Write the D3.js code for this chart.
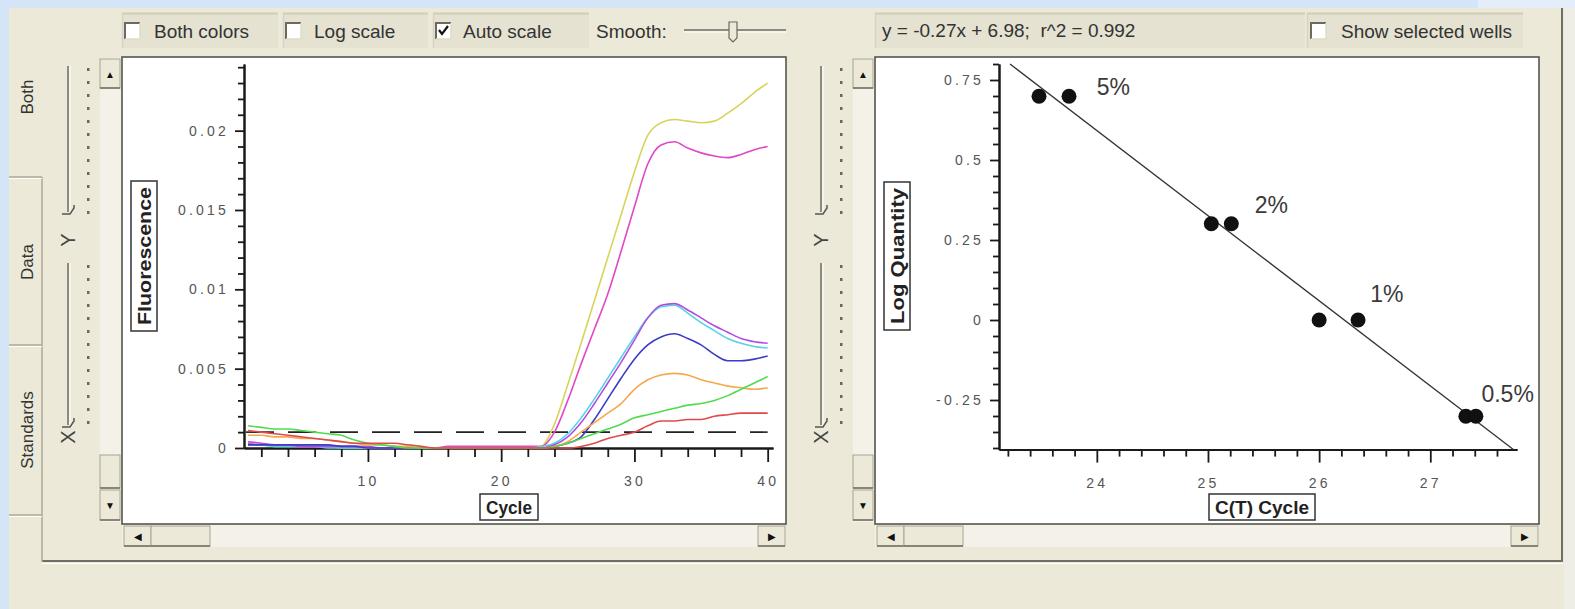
<!DOCTYPE html>
<html>
<head>
<meta charset="utf-8">
<script src="https://cdn.jsdelivr.net/npm/d3@7"></script>
<style>
  html, body { margin: 0; padding: 0; background: #ece9d8; overflow: hidden; }
  svg { display: block; }
  text { font-family: "Liberation Sans", Arial, sans-serif; }
  .pre { white-space: pre; }
</style>
</head>
<body>
<svg id="app" width="1575" height="609"></svg>
<script>
// ---------- amplification data (fluorescence per cycle) ----------
const cycles = d3.range(1, 41);

const wellYellow = [0.0002,0.0002,0.0001,0.0001,0.0001,0.0001,0.0001,0,0,0,0,0,0,0,0,0,0,0,0,0,0,0,
  0.0001,0.0015,0.0040,0.0066,0.0093,0.0120,0.0147,0.0174,0.0197,0.0205,0.0207,0.0206,0.0205,0.0206,0.0211,0.0217,0.0224,0.0230];
const wellMagenta = [0.0003,0.0002,0.0002,0.0001,0.0001,0.0001,0.0001,0.0001,0.0001,0,0,0,0,0,0,0.0001,0.0001,0.0001,0.0001,0.0001,0.0001,0.0001,
  0.0001,0.0010,0.0030,0.0053,0.0075,0.0097,0.0124,0.0152,0.0179,0.0191,0.0193,0.0189,0.0186,0.0184,0.0183,0.0185,0.0188,0.0190];
const wellCyan = [0.0002,0.0002,0.0001,0.0001,0.0001,0.0001,0,0,0,0,0,0,0,0,0,0,0,0,0,0,0,0,0.0001,
  0.0003,0.0009,0.0019,0.0031,0.0044,0.0057,0.0070,0.0082,0.0089,0.0090,0.0085,0.0079,0.0074,0.0069,0.0066,0.0064,0.0063];
const wellViolet = [0.0004,0.0003,0.0002,0.0002,0.0001,0.0001,0.0001,0.0001,0.0001,0.0001,0,0,0,0,0,0,0,0,0,0,0,0,0,
  0.0002,0.0007,0.0016,0.0028,0.0041,0.0054,0.0068,0.0082,0.0090,0.0091,0.0087,0.0082,0.0077,0.0073,0.0069,0.0067,0.0066];
const wellBlue = [0.0002,0.0002,0.0002,0.0002,0.0002,0.0002,0.0002,0.0001,0.0001,0,0,0,0,0,0,0,0,0,0,0,0,0,0,
  0.0001,0.0003,0.0007,0.0018,0.0031,0.0044,0.0056,0.0065,0.0070,0.0072,0.0069,0.0065,0.0059,0.0055,0.0055,0.0056,0.0058];
const wellOrange = [0.0008,0.0008,0.0007,0.0007,0.0006,0.0006,0.0005,0.0004,0.0003,0.0002,0.0002,0.0001,0.0001,0,0,0,0,0,0,0,0,0,0,
  0.0001,0.0004,0.0010,0.0016,0.0022,0.0028,0.0037,0.0043,0.0046,0.0047,0.0046,0.0043,0.0041,0.0039,0.0038,0.0037,0.0038];
const wellGreen = [0.0014,0.0013,0.0012,0.0012,0.0011,0.0010,0.0009,0.0008,0.0005,0.0003,0.0002,0.0001,0,0,0,0,0,0,0,0,0,0,0,
  0.0001,0.0003,0.0006,0.0009,0.0012,0.0015,0.0019,0.0021,0.0023,0.0025,0.0027,0.0028,0.0030,0.0033,0.0037,0.0041,0.0045];
const wellRed = [0.0011,0.0010,0.0009,0.0008,0.0007,0.0006,0.0005,0.0004,0.0003,0.0003,0.0003,0.0003,0.0002,0.0001,0,0,0,0,0,0,0,0,0,0,0,
  0.0001,0.0003,0.0006,0.0008,0.0010,0.0014,0.0017,0.0017,0.0018,0.0018,0.0020,0.0021,0.0022,0.0022,0.0022];

const wells = [wellYellow, wellMagenta, wellCyan, wellViolet, wellBlue, wellOrange, wellGreen, wellRed];
const wellColors = ["#d8d45a", "#e048c8", "#52d4e6", "#b24ce0", "#3c3cc8", "#f5a84c", "#50dc50", "#e04a4a"];

const threshold = 0.001;

const ampYMajor = [0, 0.005, 0.01, 0.015, 0.02];
const ampYLabels = ["0", "0.005", "0.01", "0.015", "0.02"];
const ampXMajor = [10, 20, 30, 40];
const ampXLabels = ["10", "20", "30", "40"];

// ---------- standard curve data ----------
const stdCt = [23.48, 23.75, 25.03, 25.21, 26.00, 26.35, 27.32, 27.41];
const stdLogQty = [0.699, 0.699, 0.301, 0.301, 0, 0, -0.301, -0.301];
const stdNames = ["5%", "2%", "1%", "0.5%"];
const stdNameCt = [24.0, 25.42, 26.46, 27.46];
const stdNameLogQty = [0.703, 0.334, 0.056, -0.256];

const stdYMajor = [-0.25, 0, 0.25, 0.5, 0.75];
const stdYLabels = ["-0.25", "0", "0.25", "0.5", "0.75"];
const stdXMajor = [24, 25, 26, 27];
const stdXLabels = ["24", "25", "26", "27"];

// ---------- window chrome ----------
const W = 1575, H = 609;
const ui = {
  desk: "#d4e5f7", face: "#ece9d8", group: "#e5e2d1", shadow: "#aca899",
  dark: "#716f64", light: "#ffffff", ink: "#222"
};
const svg = d3.select("#app");

svg.append("rect").attr("width", W).attr("height", H).attr("fill", ui.desk);
svg.append("rect").attr("x", 9).attr("y", 8).attr("width", W - 9).attr("height", H - 8).attr("fill", ui.face);
svg.append("rect").attr("x", 1478).attr("y", 0).attr("width", W - 1478).attr("height", 8).attr("fill", "#e3eefa");
svg.append("rect").attr("x", 1564).attr("y", 8).attr("width", 11).attr("height", H - 8).attr("fill", "#eeeee6");

function hline(x1, x2, y, c, w = 1) {
  svg.append("line").attr("x1", x1).attr("x2", x2).attr("y1", y).attr("y2", y).attr("stroke", c).attr("stroke-width", w);
}
function vline(x, y1, y2, c, w = 1) {
  svg.append("line").attr("x1", x).attr("x2", x).attr("y1", y1).attr("y2", y2).attr("stroke", c).attr("stroke-width", w);
}

// outer group frame
vline(1562, 8, 562, ui.dark, 2);
hline(42, 1563, 561, ui.dark, 2);
hline(42, 1563, 563.5, ui.light, 1);
vline(42, 177, 562, ui.shadow, 1.5);

// side tabs
[177, 345, 515].forEach(y => { hline(9, 42, y, ui.shadow, 1.5); hline(9, 42, y + 1.5, ui.light, 1); });
[["Both", 97], ["Data", 262], ["Standards", 430]].forEach(([t, y]) => {
  svg.append("text").attr("transform", `translate(33,${y}) rotate(-90)`)
    .attr("text-anchor", "middle").attr("font-size", 17).attr("fill", "#333").text(t);
});

// checkbox
function checkbox(x, y, checked) {
  const g = svg.append("g");
  g.append("rect").attr("x", x).attr("y", y).attr("width", 15).attr("height", 16).attr("fill", "#fff");
  g.append("path").attr("d", `M${x},${y + 16}V${y}H${x + 15}`).attr("fill", "none").attr("stroke", "#6c6a60").attr("stroke-width", 2);
  g.append("path").attr("d", `M${x + 15},${y}V${y + 16}H${x}`).attr("fill", "none").attr("stroke", "#dedbc8").attr("stroke-width", 1.5);
  if (checked) g.append("path").attr("d", `M${x + 3},${y + 7}l3,4l6,-8`).attr("fill", "none").attr("stroke", "#111").attr("stroke-width", 2.2);
}
function groupBox(x1, x2) {
  svg.append("rect").attr("x", x1).attr("y", 13).attr("width", x2 - x1).attr("height", 35).attr("fill", ui.group);
  hline(x1, x2, 13.5, "#cfccba", 2);
  vline(x1 + 0.5, 13, 48, "#d6d3c2", 1.5);
}
function uiText(x, y, t, size = 19) {
  return svg.append("text").attr("x", x).attr("y", y).attr("font-size", size).attr("fill", "#333").text(t);
}

// left toolbar
groupBox(122, 278); checkbox(125, 23, false); uiText(154, 38, "Both colors");
groupBox(283, 428); checkbox(286, 23, false); uiText(314, 38, "Log scale");
groupBox(433, 589); checkbox(436, 23, true); uiText(463, 38, "Auto scale");
uiText(596, 38, "Smooth:");
hline(684, 786, 30, "#8d8b80", 2); hline(684, 786, 32, ui.light, 1);
svg.append("path").attr("d", "M729,22H737V38L733,42L729,38Z").attr("fill", ui.face).attr("stroke", "#6c6a60").attr("stroke-width", 1.2);

// panel furniture shared by both charts
function panelFrame(ox) {
  // zoom sliders
  [[66, 212], [263, 425]].forEach(([a, b]) => {
    vline(ox + 68, a, b, "#8d8b80", 2); vline(ox + 70, a, b, ui.light, 1);
    d3.range(a + 2, b, 13).forEach(y => svg.append("rect").attr("x", ox + 87).attr("y", y).attr("width", 2.5).attr("height", 3).attr("fill", "#666"));
    svg.append("path").attr("d", `M${ox + 62},${b + 2}h8l4,-6v-3`).attr("fill", "none").attr("stroke", "#555").attr("stroke-width", 1.5);
  });
  svg.append("text").attr("transform", `translate(${ox + 75},240) rotate(-90)`).attr("text-anchor", "middle").attr("font-size", 20).attr("fill", "#444").text("Y");
  svg.append("text").attr("transform", `translate(${ox + 75},437) rotate(-90)`).attr("text-anchor", "middle").attr("font-size", 20).attr("fill", "#444").text("X");

  // vertical scroll bar
  svg.append("rect").attr("x", ox + 100).attr("y", 58).attr("width", 21).attr("height", 464).attr("fill", "#f3f1e8");
  const btn = (x, y, w, h, glyph) => {
    svg.append("rect").attr("x", x).attr("y", y).attr("width", w).attr("height", h).attr("fill", ui.face).attr("stroke", "#a7a494").attr("stroke-width", 1);
    hline(x, x + w, y + h, "#716f64", 1.5);
    if (glyph) svg.append("text").attr("x", x + w / 2).attr("y", y + h / 2 + 4).attr("text-anchor", "middle").attr("font-size", 10).attr("fill", "#111").text(glyph);
  };
  btn(ox + 100, 59, 20, 29, "▲");
  btn(ox + 100, 455, 20, 33, "");
  btn(ox + 100, 490, 20, 30, "▼");

  // plot box
  svg.append("rect").attr("x", ox + 122).attr("y", 57).attr("width", 664).attr("height", 467)
    .attr("fill", "#fff").attr("stroke", "#55554f").attr("stroke-width", 1.6);

  // horizontal scroll bar
  svg.append("rect").attr("x", ox + 122).attr("y", 525).attr("width", 664).attr("height", 22).attr("fill", "#f3f1e8");
  btn(ox + 124, 526, 27, 20, "◀");
  btn(ox + 151, 526, 59, 20, "");
  btn(ox + 758, 526, 27, 20, "▶");
}
panelFrame(0);
panelFrame(753);

// ---------- axes helper ----------
function styleAxis(g) {
  g.select(".domain").attr("stroke", "#1a1a1a").attr("stroke-width", 2);
  g.selectAll(".tick line").attr("stroke", "#1a1a1a").attr("stroke-width", 1.8);
  g.selectAll(".tick text").attr("font-family", "'Liberation Mono', 'DejaVu Sans Mono', monospace")
    .attr("font-size", 14).attr("letter-spacing", 3.2).attr("fill", "#555");
}
function drawAxes(x, y, o) {
  const xAxisY = y.range()[0], yAxisX = x.range()[0];
  const gx = svg.append("g").attr("transform", `translate(0,${xAxisY})`);
  gx.append("g").call(d3.axisBottom(x).tickValues(o.xMinor).tickSize(o.xMinorLen).tickSizeOuter(0).tickFormat("")).call(styleAxis);
  gx.append("g").call(d3.axisBottom(x).tickValues(o.xMajor).tickSize(o.xMajorLen).tickSizeOuter(0).tickPadding(o.xPad)
    .tickFormat((d, i) => o.xLabels[i])).call(styleAxis);
  const gy = svg.append("g").attr("transform", `translate(${yAxisX},0)`);
  gy.append("g").call(d3.axisLeft(y).tickValues(o.yMinor).tickSize(6).tickSizeOuter(0).tickFormat("")).call(styleAxis);
  gy.append("g").call(d3.axisLeft(y).tickValues(o.yMajor).tickSize(9).tickSizeOuter(0).tickPadding(6)
    .tickFormat((d, i) => o.yLabels[i])).call(styleAxis);
}
function boxedLabel(cx, cy, text, len, rotate) {
  const g = svg.append("g").attr("transform", `translate(${cx},${cy})${rotate ? " rotate(-90)" : ""}`);
  const w = len + 12, h = 26;
  g.append("rect").attr("x", -w / 2).attr("y", -h / 2).attr("width", w).attr("height", h)
    .attr("fill", "#fff").attr("stroke", "#333").attr("stroke-width", 1.5);
  g.append("text").attr("text-anchor", "middle").attr("y", 7).attr("font-size", 19).attr("font-weight", "bold")
    .attr("fill", "#222").attr("textLength", len).attr("lengthAdjust", "spacingAndGlyphs").text(text);
}

// ---------- amplification plot ----------
const xAmp = d3.scaleLinear().domain([0.7, 40.4]).range([244, 773]);
const yAmp = d3.scaleLinear().domain([0, 0.0242]).range([448, 64]);

drawAxes(xAmp, yAmp, {
  xMinor: d3.range(2, 41, 2).filter(v => v % 10 !== 0), xMinorLen: 9,
  xMajor: ampXMajor, xLabels: ampXLabels, xMajorLen: 14, xPad: 14,
  yMinor: d3.range(1, 25).map(v => v / 1000).filter(v => Math.round(v * 1000) % 5 !== 0),
  yMajor: ampYMajor, yLabels: ampYLabels
});

svg.append("line").attr("x1", xAmp(0.7) + 2).attr("x2", xAmp(40)).attr("y1", yAmp(threshold)).attr("y2", yAmp(threshold))
  .attr("stroke", "#222").attr("stroke-width", 1.6).attr("stroke-dasharray", "28,14");

const ampLine = d3.line().x((d, i) => xAmp(cycles[i])).y(d => yAmp(d)).curve(d3.curveMonotoneX);
svg.append("g").selectAll("path").data(wells).join("path")
  .attr("d", ampLine).attr("fill", "none").attr("stroke", (d, i) => wellColors[i]).attr("stroke-width", 1.6);

boxedLabel(144, 256, "Fluorescence", 138, true);
boxedLabel(509, 507, "Cycle", 46, false);

// ---------- standard curve plot ----------
const xStd = d3.scaleLinear().domain([23.12, 27.78]).range([999, 1517]);
const yStd = d3.scaleLinear().domain([-0.405, 0.80]).range([449.6, 64]);

drawAxes(xStd, yStd, {
  xMinor: d3.range(116, 139).map(v => v / 5).filter(v => Math.abs(v - Math.round(v)) > 1e-6), xMinorLen: 7,
  xMajor: stdXMajor, xLabels: stdXLabels, xMajorLen: 13, xPad: 15,
  yMinor: d3.range(-8, 17).map(v => v / 20).filter(v => Math.abs(v * 4 - Math.round(v * 4)) > 1e-6),
  yMajor: stdYMajor, yLabels: stdYLabels
});

// least-squares fit of log quantity against threshold cycle
const mx = d3.mean(stdCt), my = d3.mean(stdLogQty);
const sxy = d3.sum(stdCt, (c, i) => (c - mx) * (stdLogQty[i] - my));
const sxx = d3.sum(stdCt, c => (c - mx) ** 2);
const syy = d3.sum(stdLogQty, q => (q - my) ** 2);
const slope = sxy / sxx, intercept = my - slope * mx, r2 = sxy * sxy / (sxx * syy);

const [cLo, cHi] = xStd.domain(), [qLo, qHi] = yStd.domain();
const fitX1 = Math.max(cLo, (qHi - intercept) / slope);
const fitX2 = Math.min(cHi, (qLo - intercept) / slope);
svg.append("line").attr("x1", xStd(fitX1)).attr("y1", yStd(intercept + slope * fitX1))
  .attr("x2", xStd(fitX2)).attr("y2", yStd(intercept + slope * fitX2))
  .attr("stroke", "#333").attr("stroke-width", 1.3);

svg.append("g").selectAll("circle").data(stdCt).join("circle")
  .attr("cx", d => xStd(d)).attr("cy", (d, i) => yStd(stdLogQty[i])).attr("r", 7.5).attr("fill", "#111");

svg.append("defs").append("clipPath").attr("id", "stdClip").append("rect")
  .attr("x", 876).attr("y", 58).attr("width", 662).attr("height", 465);
svg.append("g").attr("clip-path", "url(#stdClip)").selectAll("text").data(stdNames).join("text")
  .attr("x", (d, i) => xStd(stdNameCt[i])).attr("y", (d, i) => yStd(stdNameLogQty[i]))
  .attr("font-size", 23).attr("fill", "#3a3a3a").text(d => d);

boxedLabel(897, 256, "Log Quantity", 136, true);
boxedLabel(1262, 507, "C(T) Cycle", 94, false);

// right toolbar
groupBox(875, 1305);
uiText(882, 37, `y = ${slope.toFixed(2)}x + ${intercept.toFixed(2)};  r^2 = ${r2.toFixed(3)}`).attr("class", "pre");
groupBox(1307, 1523); checkbox(1311, 23, false); uiText(1341, 38, "Show selected wells");
</script>
</body>
</html>
